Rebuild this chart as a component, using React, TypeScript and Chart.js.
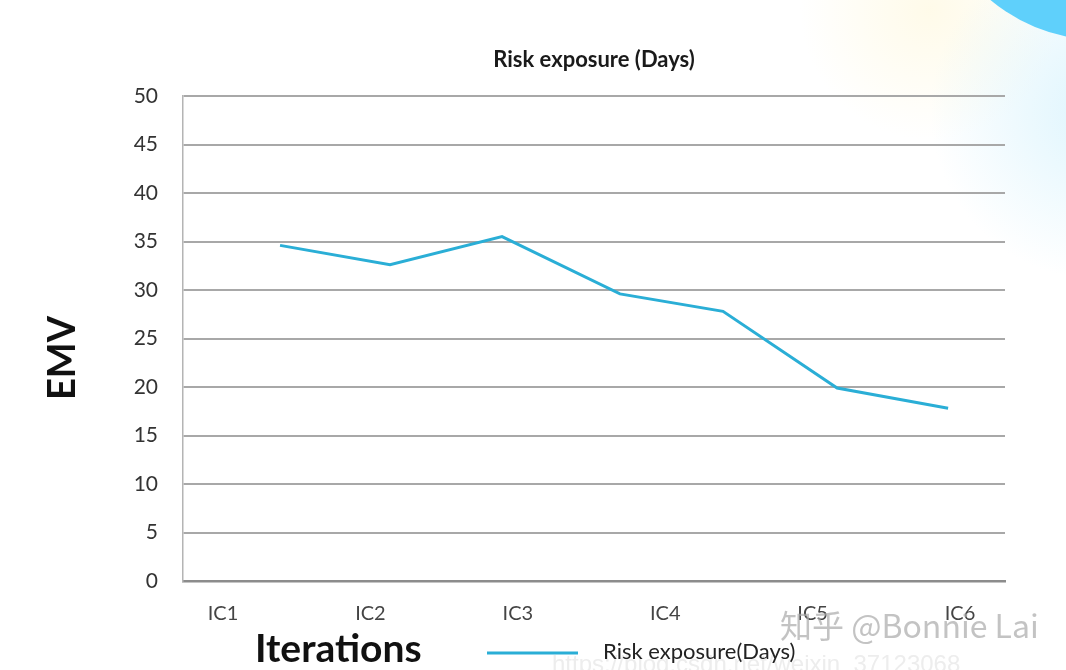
import React, { useEffect, useRef } from "react";
import { Chart, registerables } from "chart.js";

Chart.register(...registerables);

const categories = ["IC1", "IC2", "IC3", "IC4", "IC5", "IC6"];
const categoryPositions = [1, 2, 3, 4, 5, 6];
const pointX = [1.387, 2.133, 2.893, 3.693, 4.392, 5.166, 5.919];
const riskExposure = [34.6, 32.6, 35.5, 29.6, 27.8, 19.9, 17.8];
const seriesName = "Risk exposure(Days)";
const chartTitle = "Risk exposure (Days)";
const yTitle = "EMV";
const xTitle = "Iterations";

const LINE = "#2aaed6";

const decorPlugin = {
  id: "decor",
  beforeDraw(chart: any) {
    const ctx = chart.ctx as CanvasRenderingContext2D;
    const { width, height } = chart;
    ctx.save();
    ctx.fillStyle = "#ffffff";
    ctx.fillRect(0, 0, width, height);
    // soft glows
    let g = ctx.createRadialGradient(930, 10, 0, 930, 10, 130);
    g.addColorStop(0, "rgba(255,247,215,0.55)");
    g.addColorStop(1, "rgba(255,247,215,0)");
    ctx.fillStyle = g;
    ctx.fillRect(760, 0, 306, 200);
    g = ctx.createRadialGradient(1100, 110, 0, 1100, 110, 170);
    g.addColorStop(0, "rgba(200,238,252,0.6)");
    g.addColorStop(1, "rgba(200,238,252,0)");
    ctx.fillStyle = g;
    ctx.fillRect(900, 0, 166, 320);
    // blob
    ctx.beginPath();
    ctx.arc(1100, -130, 170, 0, Math.PI * 2);
    ctx.fillStyle = "#5fd0fb";
    ctx.fill();
    ctx.restore();
  },
  afterDraw(chart: any) {
    const ctx = chart.ctx as CanvasRenderingContext2D;
    const area = chart.chartArea;
    ctx.save();
    // title
    ctx.fillStyle = "#1a1a1a";
    ctx.font = "bold 22px Lato";
    ctx.textAlign = "center";
    ctx.textBaseline = "alphabetic";
    ctx.fillText(chartTitle, (area.left + area.right) / 2, 67);
    // y title
    ctx.save();
    ctx.translate(75, 358);
    ctx.rotate(-Math.PI / 2);
    ctx.font = "bold 38px Lato";
    ctx.fillStyle = "#111";
    ctx.textAlign = "center";
    ctx.fillText(yTitle, 0, 0);
    ctx.restore();
    // x title
    ctx.font = "bold 39px Lato";
    ctx.fillStyle = "#111";
    ctx.textAlign = "left";
    ctx.fillText(xTitle, 255, 662);
    // faint csdn watermark
    ctx.font = "24px 'Liberation Sans'";
    ctx.fillStyle = "#ededed";
    ctx.fillText("https://blog.csdn.net/weixin_37123068", 552, 672);
    // legend
    ctx.strokeStyle = LINE;
    ctx.lineWidth = 3;
    ctx.beginPath();
    ctx.moveTo(487, 653);
    ctx.lineTo(578, 653);
    ctx.stroke();
    ctx.font = "22px Lato";
    ctx.fillStyle = "#222";
    ctx.fillText(seriesName, 603, 659);
    // zhihu watermark
    ctx.font = "32px 'Noto Sans CJK SC'";
    ctx.fillStyle = "rgba(170,170,170,0.7)";
    ctx.fillText("知乎 @Bonnie Lai", 780, 638);
    ctx.restore();
  },
};

export default function App() {
  const ref = useRef<HTMLCanvasElement | null>(null);
  useEffect(() => {
    document.body.style.margin = "0";
    const canvas = ref.current!;
    const chart = new Chart(canvas, {
      type: "line",
      data: {
        datasets: [
          {
            label: seriesName,
            data: pointX.map((x, i) => ({ x, y: riskExposure[i] })),
            borderColor: LINE,
            borderWidth: 3,
            pointRadius: 0,
            tension: 0,
            fill: false,
          },
        ],
      },
      options: {
        responsive: false,
        animation: false,
        layout: { padding: { top: 96, right: 61, left: 0, bottom: 0 } },
        plugins: { legend: { display: false }, title: { display: false }, tooltip: { enabled: false } },
        scales: {
          x: {
            type: "linear",
            min: 0.7286,
            max: 6.305,
            afterBuildTicks: (scale: any) => {
              scale.ticks = categoryPositions.map((v) => ({ value: v }));
            },
            afterFit: (scale: any) => {
              scale.height = 89;
            },
            grid: { display: false, drawTicks: false },
            border: { display: true, color: "#8c8c8c", width: 2.5 },
            ticks: {
              padding: 21,
              autoSkip: false,
              maxRotation: 0,
              color: "#444",
              font: { family: "Lato", size: 20 },
              callback: (v: any) => {
                const i = categoryPositions.indexOf(Number(v));
                return i >= 0 ? categories[i] : "";
              },
            },
          },
          y: {
            min: 0,
            max: 50,
            afterFit: (scale: any) => {
              scale.width = 183;
            },
            grid: { color: "#a8a8a8", lineWidth: 2, drawTicks: false },
            border: { display: true, color: "#b4b4b4", width: 1.5 },
            ticks: {
              stepSize: 5,
              padding: 25,
              color: "#333",
              font: { family: "Lato", size: 21 },
            },
          },
        },
      },
      plugins: [decorPlugin],
    } as any);
    return () => chart.destroy();
  }, []);
  return (
    <div style={{ position: "absolute", left: 0, top: 0, width: 1066, height: 670 }}>
      <canvas ref={ref} width={1066} height={670} />
    </div>
  );
}
